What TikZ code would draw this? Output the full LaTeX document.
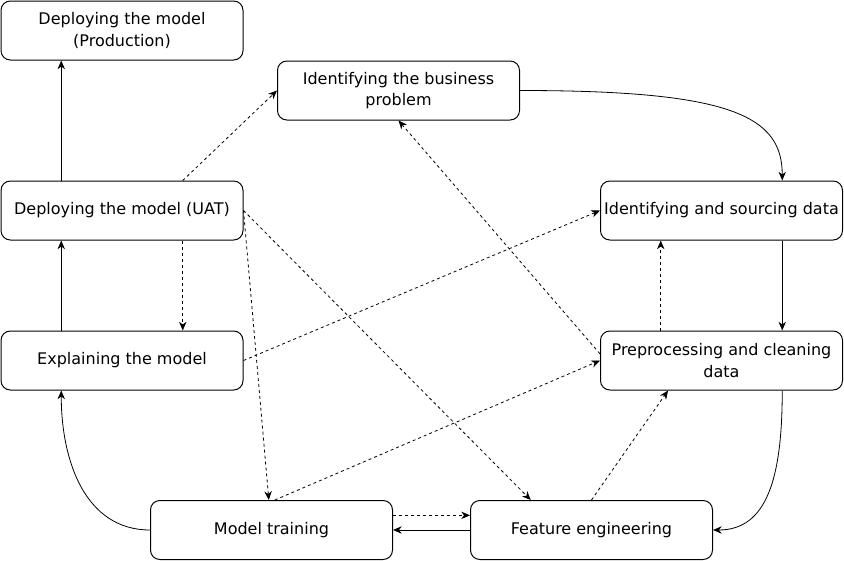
\documentclass[tikz,border=0pt]{standalone}
\usepackage{fontspec}
\setmainfont{DejaVu Sans}
\usetikzlibrary{arrows.meta,calc}

\begin{document}
\begin{tikzpicture}[x=0.75pt,y=-0.75pt,
         box/.style={draw,line width=0.75pt,rounded corners=7pt,minimum width=181.5pt,
           minimum height=44.25pt,align=center,inner sep=2pt,font=\fontsize{12}{16}\selectfont},
         arr/.style={-{Stealth[length=6.5pt,width=5.5pt,inset=2pt]},line width=0.6pt},
         dotarr/.style={arr,dash pattern=on 2.25pt off 2.25pt}]
         \useasboundingbox (0,0) rectangle (844,561) ;
         % left column
         \node[box] (prod) at (122,30.5) {Deploying the model\\(Production)} ;
         \node[box] (uat) at (122,210.5) {Deploying the model (UAT)} ;
         \node[box] (expl) at (122,360.5) {Explaining the model} ;
         % top and right
         \node[box] (biz) at (398.5,90.5) {Identifying the business\\problem} ;
         \node[box] (src) at (721.5,210.5) {Identifying and sourcing data} ;
         \node[box] (prep) at (721.5,360.5) {Preprocessing and cleaning\\data} ;
         % bottom row
         \node[box] (train) at (271.5,530) {Model training} ;
         \node[box] (feat) at (591.5,530) {Feature engineering} ;
         % solid flow
         \draw[arr] ($(uat.north)!.5!(uat.north west)$)--($(prod.south)!.5!(prod.south west)$) ;
         \draw[arr] ($(expl.north)!.5!(expl.north west)$)--($(uat.south)!.5!(uat.south west)$) ;
         \draw[arr] (train.west) .. controls +(-65,0) and +(0,70) .. ($(expl.south)!.5!(expl.south west)$) ;
         \draw[arr] (feat.west)--(train.east) ;
         \draw[arr] ($(prep.south)!.5!(prep.south east)$) .. controls +(0,85) and +(55,0) .. (feat.east) ;
         \draw[arr] ($(src.south)!.5!(src.south east)$)--($(prep.north)!.5!(prep.north east)$) ;
         \draw[arr] (biz.east) .. controls +(210,0) and +(0,-65) .. ($(src.north)!.5!(src.north east)$) ;
         % dashed links
         \draw[dotarr] ([yshift=11pt]train.east)--([yshift=11pt]feat.west) ;
         \draw[dotarr] ($(prep.north)!.5!(prep.north west)$)--($(src.south)!.5!(src.south west)$) ;
         \draw[dotarr] (feat.north)--($(prep.south)!.44!(prep.south west)$) ;
         \draw[dotarr] ([xshift=2.5pt]train.north)--(prep.west) ;
         \draw[dotarr] ([yshift=5pt]prep.west)--(biz.south) ;
         \draw[dotarr] (expl.east)--(src.west) ;
         \draw[dotarr] ($(uat.north)!.5!(uat.north east)$)--(biz.west) ;
         \draw[dotarr] ($(uat.south)!.5!(uat.south east)$)--($(expl.north)!.5!(expl.north east)$) ;
         \draw[dotarr] (uat.east)--([xshift=-2pt]train.north) ;
         \draw[dotarr] (uat.east)--($(feat.north)!.5!(feat.north west)$) ;
       \end{tikzpicture}
\end{document}
